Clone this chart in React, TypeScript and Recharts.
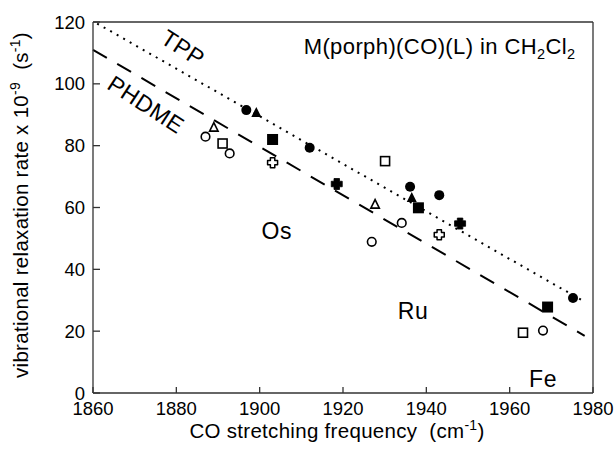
import React from 'react';
import { ScatterChart, Scatter, XAxis, YAxis, ReferenceLine, ReferenceDot } from 'recharts';

const FONT = '"Liberation Sans", Arial, Helvetica, sans-serif';

// data points (CO stretching frequency, relaxation rate x 1e-9)
const filledCircles = [
  { x: 1896.8, y: 91.5 }, { x: 1912.0, y: 79.3 }, { x: 1936.1, y: 66.7 },
  { x: 1943.1, y: 64.0 }, { x: 1975.2, y: 30.7 },
];
const filledTriangles = [{ x: 1899.2, y: 90.6 }, { x: 1936.5, y: 63.1 }];
const filledSquares = [{ x: 1903.1, y: 82.0 }, { x: 1938.1, y: 59.9 }, { x: 1969.1, y: 27.8 }];
const filledCrosses = [{ x: 1918.5, y: 67.6 }, { x: 1948.1, y: 54.8 }];
const openCircles = [
  { x: 1887.0, y: 82.9 }, { x: 1892.8, y: 77.5 }, { x: 1926.9, y: 48.9 },
  { x: 1934.1, y: 55.0 }, { x: 1968.0, y: 20.2 },
];
const openTriangles = [{ x: 1889.0, y: 85.8 }, { x: 1927.7, y: 60.9 }];
const openSquares = [{ x: 1891.1, y: 80.7 }, { x: 1930.1, y: 75.0 }, { x: 1963.2, y: 19.5 }];
const openCrosses = [{ x: 1903.1, y: 74.5 }, { x: 1943.1, y: 51.2 }];

// fit lines
const tppLine = [{ x: 1861, y: 119.5 }, { x: 1978, y: 29.5 }];
const phdmeLine = [{ x: 1860, y: 111 }, { x: 1978, y: 18.5 }];

const xTicks = [1860, 1880, 1900, 1920, 1940, 1960, 1980];
const yTicks = [0, 20, 40, 60, 80, 100, 120];

// in-plot annotations
const annotations = [
  { text: 'TPP', x: 1881.6, y: 111.6, rotate: 33, size: 23 },
  { text: 'PHDME', x: 1872.7, y: 93.3, rotate: 33, size: 23 },
  { text: 'Os', x: 1904.1, y: 52.5, rotate: 0, size: 23 },
  { text: 'Ru', x: 1936.8, y: 26.6, rotate: 0, size: 23 },
  { text: 'Fe', x: 1968.0, y: 4.5, rotate: 0, size: 23 },
];
const titleAnchor = { x: 1975.8, y: 109.5 };

const FilledCircle = (p: any) => <circle cx={p.cx} cy={p.cy} r={5} fill="#000" />;
const OpenCircle = (p: any) => (
  <circle cx={p.cx} cy={p.cy} r={4.3} fill="#fff" stroke="#000" strokeWidth={1.6} />
);
const FilledSquare = (p: any) => <rect x={p.cx - 5.5} y={p.cy - 5.5} width={11} height={11} fill="#000" />;
const OpenSquare = (p: any) => (
  <rect x={p.cx - 4.5} y={p.cy - 4.5} width={9} height={9} fill="#fff" stroke="#000" strokeWidth={1.6} />
);
const triPts = (cx: number, cy: number, s: number) =>
  `${cx},${cy - s * 0.6} ${cx - s / 2},${cy + s * 0.4} ${cx + s / 2},${cy + s * 0.4}`;
const FilledTriangle = (p: any) => <polygon points={triPts(p.cx, p.cy, 10)} fill="#000" />;
const OpenTriangle = (p: any) => (
  <polygon points={triPts(p.cx, p.cy, 8.5)} fill="#fff" stroke="#000" strokeWidth={1.6} strokeLinejoin="miter" />
);
const crossPath = (cx: number, cy: number, L: number, w: number) => {
  const a = L / 2, b = w / 2;
  return `M${cx - b},${cy - a} H${cx + b} V${cy - b} H${cx + a} V${cy + b} H${cx + b} V${cy + a} H${cx - b} V${cy + b} H${cx - a} V${cy - b} H${cx - b} Z`;
};
const FilledCross = (p: any) => (
  <path d={crossPath(p.cx, p.cy, 11, 5.5)} fill="#000" stroke="#000" strokeWidth={0.8} strokeLinejoin="round" />
);
const OpenCross = (p: any) => (
  <path d={crossPath(p.cx, p.cy, 10, 4.4)} fill="#fff" stroke="#000" strokeWidth={1.5} strokeLinejoin="round" />
);

const Annotation = (a: any) => (p: any) => (
  <text
    x={p.cx}
    y={p.cy}
    textAnchor="middle"
    dominantBaseline="central"
    fontFamily={FONT}
    fontSize={a.size}
    letterSpacing={0.5}
    fill="#000"
    transform={a.rotate ? `rotate(${a.rotate} ${p.cx} ${p.cy})` : undefined}
  >
    {a.text}
  </text>
);

const TitleShape = (p: any) => (
  <text x={p.cx} y={p.cy} textAnchor="end" fontFamily={FONT} fontSize={22} letterSpacing={0.4} fill="#000">
    M(porph)(CO)(L) in CH
    <tspan fontSize={14.5} dy={5}>2</tspan>
    <tspan dy={-5}>Cl</tspan>
    <tspan fontSize={14.5} dy={5}>2</tspan>
  </text>
);

const YLabel = (props: any) => {
  const vb = props.viewBox || { x: 0, y: 22, width: 93, height: 371 };
  const cx = vb.x + 28;
  const cy = 205;
  return (
    <text
      x={cx}
      y={cy}
      textAnchor="middle"
      fontFamily={FONT}
      fontSize={20.5}
      letterSpacing={0.3}
      fill="#000"
      style={{ whiteSpace: 'pre' }}
      transform={`rotate(-90 ${cx} ${cy})`}
    >
      vibrational relaxation rate x 10
      <tspan fontSize={14} dy={-8}>-9</tspan>
      <tspan dy={8}>{'  (s'}</tspan>
      <tspan fontSize={14} dy={-8}>-1</tspan>
      <tspan dy={8}>)</tspan>
    </text>
  );
};

const XLabel = (props: any) => {
  const vb = props.viewBox || { x: 93, y: 393, width: 500, height: 71 };
  const cx = vb.x + 244;
  const cy = vb.y + 45;
  return (
    <text
      x={cx}
      y={cy}
      textAnchor="middle"
      fontFamily={FONT}
      fontSize={20.5}
      letterSpacing={0.3}
      fill="#000"
      style={{ whiteSpace: 'pre' }}
    >
      {'CO stretching frequency  (cm'}
      <tspan fontSize={14} dy={-8}>-1</tspan>
      <tspan dy={8}>)</tspan>
    </text>
  );
};

const AXIS = '#333';

export default function App() {
  return (
    <div style={{ position: 'absolute', left: 0, top: 0, background: '#fff' }}>
      <ScatterChart width={614} height={464} margin={{ top: 22, right: 21, bottom: 0, left: 0 }}>
        <XAxis
          type="number"
          dataKey="x"
          domain={[1860, 1980]}
          ticks={xTicks}
          interval={0}
          allowDataOverflow
          height={71}
          tickSize={-6}
          tickMargin={15}
          stroke={AXIS}
          strokeWidth={1.3}
          tick={{ fill: '#000', fontSize: 18.5, fontFamily: FONT }}
          label={{ content: XLabel }}
        />
        <YAxis
          type="number"
          dataKey="y"
          domain={[0, 120]}
          ticks={yTicks}
          interval={0}
          allowDataOverflow
          width={93}
          tickSize={-7}
          tickMargin={15}
          stroke={AXIS}
          strokeWidth={1.3}
          tick={{ fill: '#000', fontSize: 18.5, fontFamily: FONT }}
          label={{ content: YLabel }}
        />
        <ReferenceLine y={120} stroke={AXIS} strokeWidth={1.3} />
        <ReferenceLine x={1980} stroke={AXIS} strokeWidth={1.3} />
        <ReferenceLine segment={tppLine} stroke="#000" strokeWidth={2} strokeDasharray="2 5.5" />
        <ReferenceLine segment={phdmeLine} stroke="#000" strokeWidth={2} strokeDasharray="16 12" />
        <Scatter data={openCircles} shape={OpenCircle} isAnimationActive={false} />
        <Scatter data={openTriangles} shape={OpenTriangle} isAnimationActive={false} />
        <Scatter data={openSquares} shape={OpenSquare} isAnimationActive={false} />
        <Scatter data={openCrosses} shape={OpenCross} isAnimationActive={false} />
        <Scatter data={filledCircles} shape={FilledCircle} isAnimationActive={false} />
        <Scatter data={filledTriangles} shape={FilledTriangle} isAnimationActive={false} />
        <Scatter data={filledSquares} shape={FilledSquare} isAnimationActive={false} />
        <Scatter data={filledCrosses} shape={FilledCross} isAnimationActive={false} />
        {annotations.map((a) => (
          <ReferenceDot key={a.text} x={a.x} y={a.y} r={0} shape={Annotation(a)} ifOverflow="visible" />
        ))}
        <ReferenceDot x={titleAnchor.x} y={titleAnchor.y} r={0} shape={TitleShape} ifOverflow="visible" />
      </ScatterChart>
    </div>
  );
}
